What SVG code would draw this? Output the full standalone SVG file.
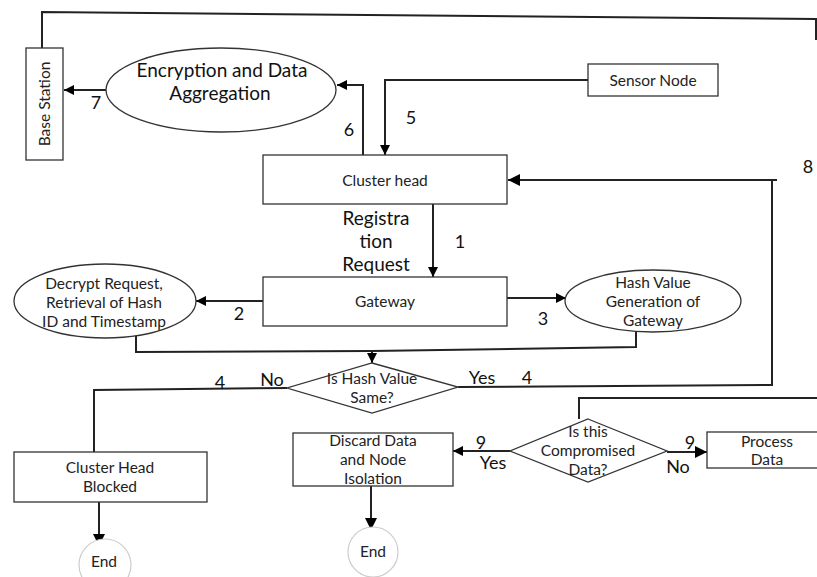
<svg xmlns="http://www.w3.org/2000/svg" width="817" height="577" viewBox="0 0 817 577">
<defs>
<marker id="ah" viewBox="0 0 10 10" refX="10" refY="5" markerWidth="10" markerHeight="10" markerUnits="userSpaceOnUse" orient="auto">
<path d="M0,0 L10,5 L0,10 z" fill="#000"/>
</marker>
<marker id="ahL" viewBox="0 0 12 12" refX="12" refY="6" markerWidth="12" markerHeight="12" markerUnits="userSpaceOnUse" orient="auto">
<path d="M0,0 L12,6 L0,12 z" fill="#000"/>
</marker>
</defs>
<style>
.box{fill:#fff;stroke:#333;stroke-width:1.3}
.end{fill:#fff;stroke:#ccc;stroke-width:1.2}
.ln{fill:none;stroke:#222;stroke-width:2}
.t{font-family:Lato,"Open Sans",sans-serif;font-size:15.5px;fill:#222;text-anchor:middle}
.tb{font-family:Lato,"Open Sans",sans-serif;font-size:19px;fill:#111;text-anchor:middle}
.lbl{font-family:Lato,"Open Sans",sans-serif;font-size:18px;fill:#111;text-anchor:middle}
</style>
<rect width="817" height="577" fill="#fff"/>
<g id="connectors">
<polyline class="ln" points="42,48 42,12 816,19 816,40"/>
<line class="ln" x1="106" y1="90" x2="64" y2="90" marker-end="url(#ah)"/>
<polyline class="ln" points="363,155 363,85 337,85" marker-end="url(#ah)"/>
<polyline class="ln" points="588,80 385,80 385,155" marker-end="url(#ah)"/>
<polyline class="ln" points="777,180 508,180" marker-end="url(#ahL)"/>
<polyline class="ln" points="458,387 772,385 772,180"/>
<line class="ln" x1="433" y1="204" x2="433" y2="277" marker-end="url(#ah)"/>
<line class="ln" x1="263" y1="301" x2="196" y2="301" marker-end="url(#ah)"/>
<line class="ln" x1="507" y1="298" x2="566" y2="298" marker-end="url(#ah)"/>
<polyline class="ln" points="136,330 136,352 372,351"/>
<polyline class="ln" points="636,330 636,347 372,351"/>
<line class="ln" x1="372" y1="351" x2="372" y2="363" marker-end="url(#ah)"/>
<polyline class="ln" points="287,388 94,390 94,452"/>
<line class="ln" x1="99" y1="502" x2="99" y2="546" marker-end="url(#ahL)"/>
<line class="ln" x1="371" y1="486" x2="371" y2="530" marker-end="url(#ahL)"/>
<polyline class="ln" points="579,419 579,398 817,398"/>
<line class="ln" x1="510" y1="451" x2="453" y2="451" marker-end="url(#ah)"/>
<line class="ln" x1="667" y1="452" x2="707" y2="452" marker-end="url(#ahL)"/>
<text class="lbl" x="96" y="109">7</text>
<text class="lbl" x="349" y="136">6</text>
<text class="lbl" x="411" y="124">5</text>
<text class="lbl" x="808" y="173">8</text>
<text class="lbl" x="460" y="248">1</text>
<text class="lbl" x="239" y="320">2</text>
<text class="lbl" x="543" y="325">3</text>
<text class="lbl" x="272" y="386">No</text>
<text class="lbl" x="220" y="389">4</text>
<text class="lbl" x="482" y="384">Yes</text>
<text class="lbl" x="527" y="384">4</text>
<text class="lbl" x="481" y="449">9</text>
<text class="lbl" x="493" y="469">Yes</text>
<text class="lbl" x="690" y="449">9</text>
<text class="lbl" x="678" y="473">No</text>
<text class="tb" x="376" y="225">Registra</text>
<text class="tb" x="376" y="248">tion</text>
<text class="tb" x="376" y="271">Request</text>
</g>
<g id="base-station">
<rect class="box" x="26" y="48" width="37" height="112"/>
<text class="t" transform="translate(50,104) rotate(-90)">Base Station</text>
</g>
<g id="encryption">
<ellipse class="box" cx="221" cy="90" rx="115" ry="42"/>
<text class="tb" x="222" y="77">Encryption and Data</text>
<text class="tb" x="220" y="100">Aggregation</text>
</g>
<g id="sensor-node">
<rect class="box" x="588" y="64" width="130" height="32"/>
<text class="t" x="653" y="86">Sensor Node</text>
</g>
<g id="cluster-head">
<rect class="box" x="263" y="155" width="244" height="49"/>
<text class="t" x="385" y="186">Cluster head</text>
</g>
<g id="gateway">
<rect class="box" x="263" y="277" width="244" height="49"/>
<text class="t" x="385" y="307">Gateway</text>
</g>
<g id="decrypt">
<ellipse class="box" cx="105" cy="301" rx="91" ry="37"/>
<text class="t" x="104" y="289">Decrypt Request,</text>
<text class="t" x="104" y="308">Retrieval of Hash</text>
<text class="t" x="104" y="327">ID and Timestamp</text>
</g>
<g id="hash-gen">
<ellipse class="box" cx="653" cy="301" rx="88" ry="31"/>
<text class="t" x="653" y="288">Hash Value</text>
<text class="t" x="653" y="307">Generation of</text>
<text class="t" x="653" y="326">Gateway</text>
</g>
<g id="hash-same">
<polygon class="box" points="372,363 458,387 372,413 287,388"/>
<text class="t" x="372" y="384">Is Hash Value</text>
<text class="t" x="372" y="403">Same?</text>
</g>
<g id="ch-blocked">
<rect class="box" x="14" y="452" width="193" height="50"/>
<text class="t" x="110" y="473">Cluster Head</text>
<text class="t" x="110" y="492">Blocked</text>
</g>
<g id="end1">
<circle class="end" cx="105" cy="565" r="26"/>
<text class="t" x="104" y="567">End</text>
</g>
<g id="discard">
<rect class="box" x="293" y="433" width="160" height="53"/>
<text class="t" x="373" y="446">Discard Data</text>
<text class="t" x="373" y="465">and Node</text>
<text class="t" x="373" y="484">Isolation</text>
</g>
<g id="end2">
<circle class="end" cx="373" cy="552" r="25"/>
<text class="t" x="373" y="557">End</text>
</g>
<g id="compromised">
<polygon class="box" points="588,419 667,451 588,482 510,451"/>
<text class="t" x="588" y="437">Is this</text>
<text class="t" x="588" y="456">Compromised</text>
<text class="t" x="588" y="475">Data?</text>
</g>
<g id="process">
<rect class="box" x="707" y="432" width="130" height="36"/>
<text class="t" x="767" y="447">Process</text>
<text class="t" x="767" y="465">Data</text>
</g>
</svg>
